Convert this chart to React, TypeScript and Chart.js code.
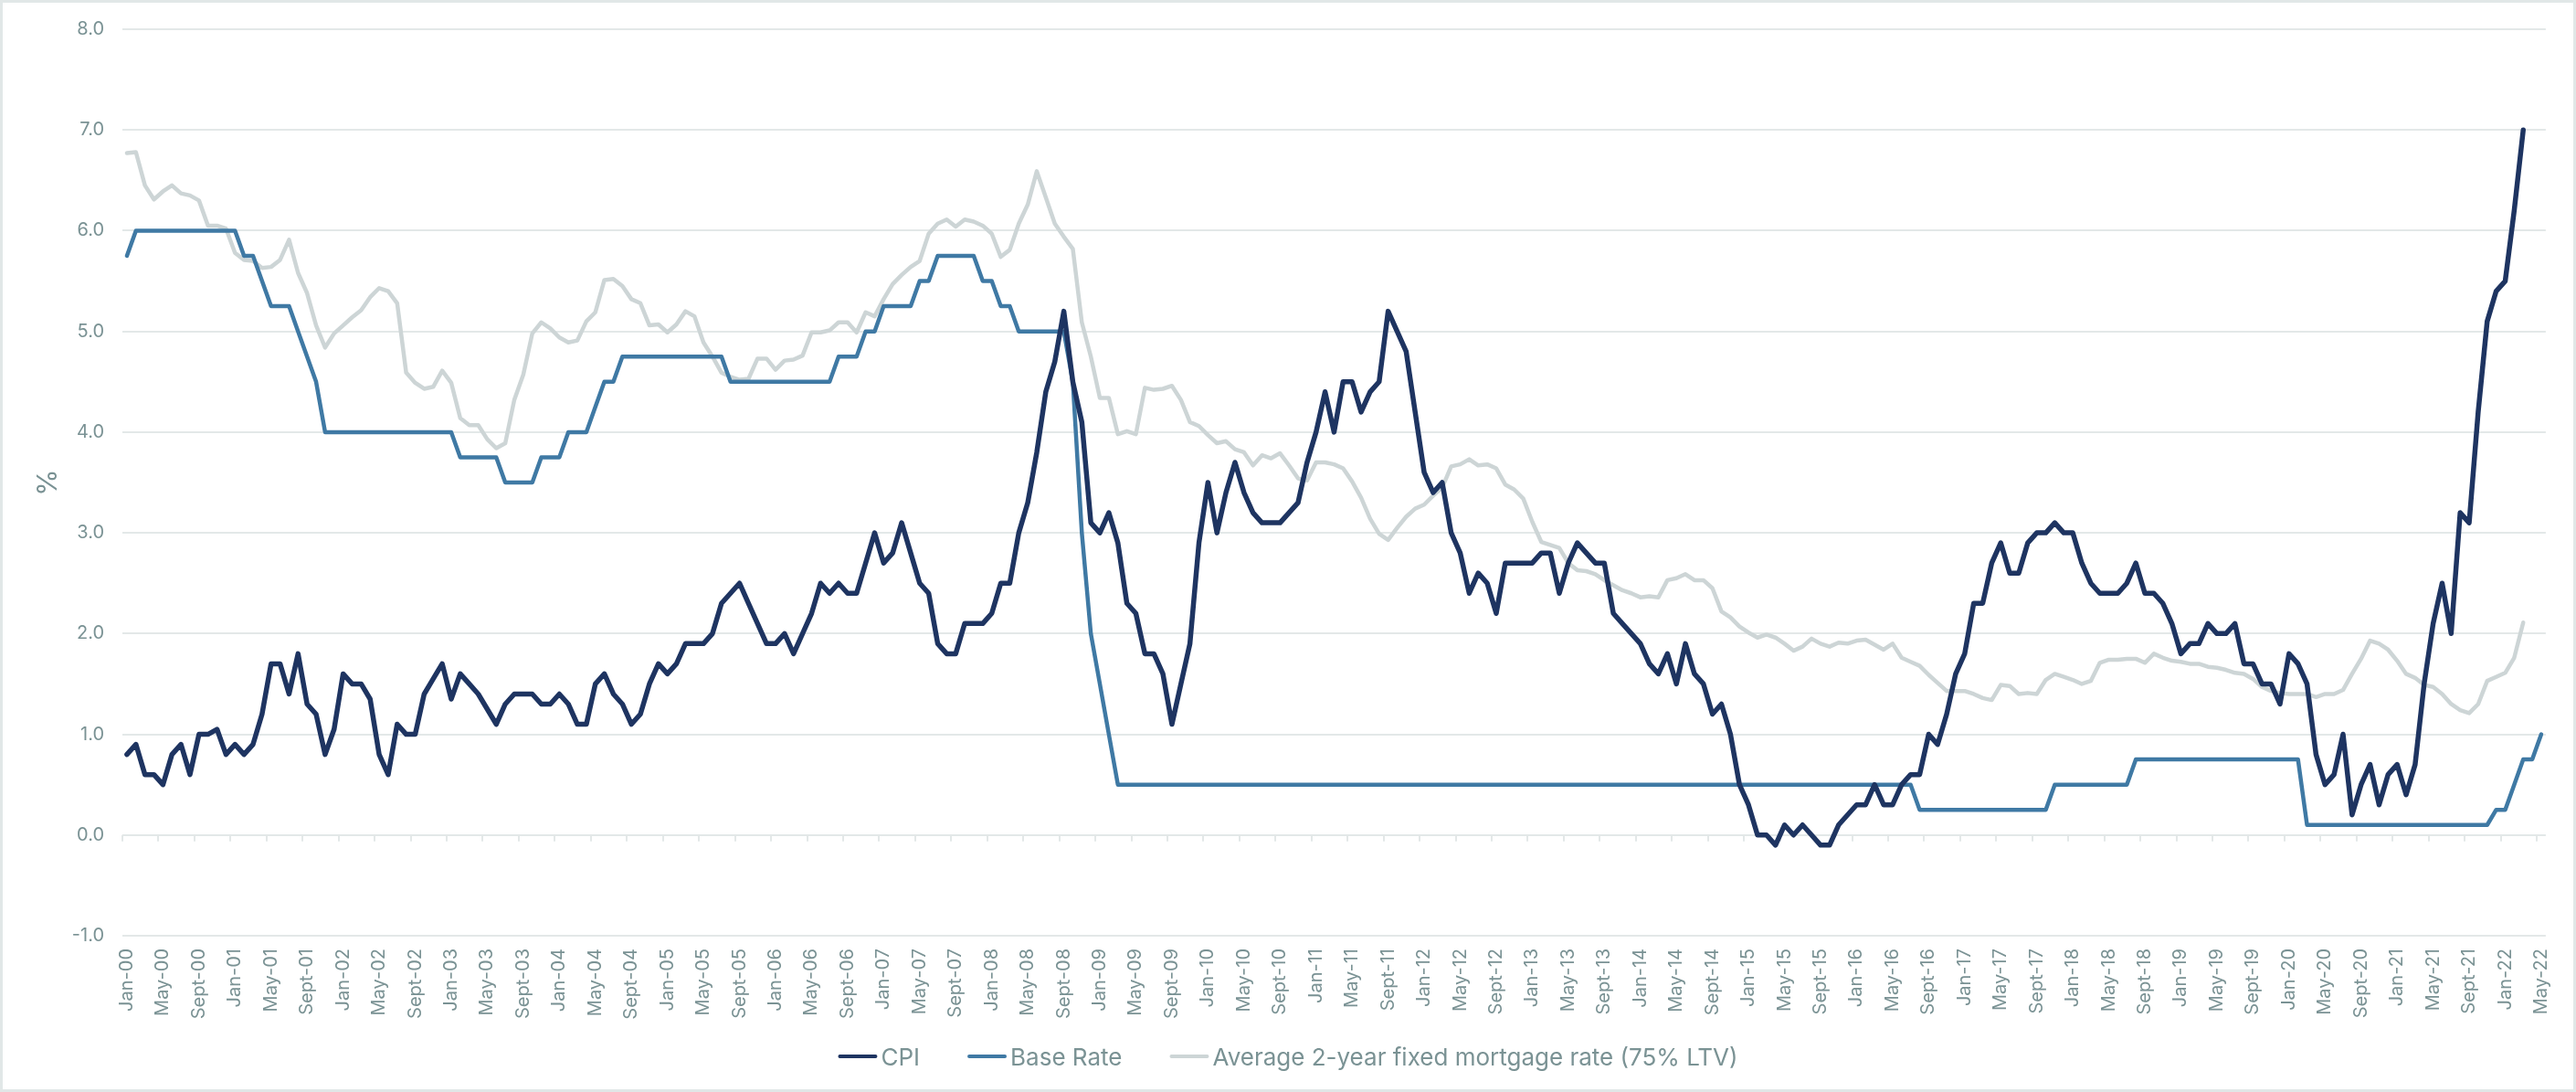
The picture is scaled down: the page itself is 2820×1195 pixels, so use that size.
import React, { useEffect, useRef } from 'react';
import { Chart, registerables } from 'chart.js';

Chart.register(...registerables);

// Month labels, Jan-00 .. May-22
const MONTH_NAMES = ['Jan', 'Feb', 'Mar', 'Apr', 'May', 'Jun', 'Jul', 'Aug', 'Sept', 'Oct', 'Nov', 'Dec'];
const FIRST_YEAR = 2000;
const LAST_YEAR = 2022;
const MONTHS_IN_LAST_YEAR = 5;

const labels: string[] = [];
for (let yr = FIRST_YEAR; yr <= LAST_YEAR; yr++) {
  const count = yr === LAST_YEAR ? MONTHS_IN_LAST_YEAR : 12;
  for (let m = 0; m < count; m++) {
    labels.push(`${MONTH_NAMES[m]}-${String(yr % 100).padStart(2, '0')}`);
  }
}

// CPI annual rate, %, Jan-00 .. Mar-22
const cpi: (number | null)[] = [
  0.8, 0.9, 0.6, 0.6, 0.5, 0.8, 0.9, 0.6, 1.0, 1.0, 1.05, 0.8,
  0.9, 0.8, 0.9, 1.2, 1.7, 1.7, 1.4, 1.8, 1.3, 1.2, 0.8, 1.05,
  1.6, 1.5, 1.5, 1.35, 0.8, 0.6, 1.1, 1.0, 1.0, 1.4, 1.55, 1.7,
  1.35, 1.6, 1.5, 1.4, 1.25, 1.1, 1.3, 1.4, 1.4, 1.4, 1.3, 1.3,
  1.4, 1.3, 1.1, 1.1, 1.5, 1.6, 1.4, 1.3, 1.1, 1.2, 1.5, 1.7,
  1.6, 1.7, 1.9, 1.9, 1.9, 2.0, 2.3, 2.4, 2.5, 2.3, 2.1, 1.9,
  1.9, 2.0, 1.8, 2.0, 2.2, 2.5, 2.4, 2.5, 2.4, 2.4, 2.7, 3.0,
  2.7, 2.8, 3.1, 2.8, 2.5, 2.4, 1.9, 1.8, 1.8, 2.1, 2.1, 2.1,
  2.2, 2.5, 2.5, 3.0, 3.3, 3.8, 4.4, 4.7, 5.2, 4.5, 4.1, 3.1,
  3.0, 3.2, 2.9, 2.3, 2.2, 1.8, 1.8, 1.6, 1.1, 1.5, 1.9, 2.9,
  3.5, 3.0, 3.4, 3.7, 3.4, 3.2, 3.1, 3.1, 3.1, 3.2, 3.3, 3.7,
  4.0, 4.4, 4.0, 4.5, 4.5, 4.2, 4.4, 4.5, 5.2, 5.0, 4.8, 4.2,
  3.6, 3.4, 3.5, 3.0, 2.8, 2.4, 2.6, 2.5, 2.2, 2.7, 2.7, 2.7,
  2.7, 2.8, 2.8, 2.4, 2.7, 2.9, 2.8, 2.7, 2.7, 2.2, 2.1, 2.0,
  1.9, 1.7, 1.6, 1.8, 1.5, 1.9, 1.6, 1.5, 1.2, 1.3, 1.0, 0.5,
  0.3, 0.0, 0.0, -0.1, 0.1, 0.0, 0.1, 0.0, -0.1, -0.1, 0.1, 0.2,
  0.3, 0.3, 0.5, 0.3, 0.3, 0.5, 0.6, 0.6, 1.0, 0.9, 1.2, 1.6,
  1.8, 2.3, 2.3, 2.7, 2.9, 2.6, 2.6, 2.9, 3.0, 3.0, 3.1, 3.0,
  3.0, 2.7, 2.5, 2.4, 2.4, 2.4, 2.5, 2.7, 2.4, 2.4, 2.3, 2.1,
  1.8, 1.9, 1.9, 2.1, 2.0, 2.0, 2.1, 1.7, 1.7, 1.5, 1.5, 1.3,
  1.8, 1.7, 1.5, 0.8, 0.5, 0.6, 1.0, 0.2, 0.5, 0.7, 0.3, 0.6,
  0.7, 0.4, 0.7, 1.5, 2.1, 2.5, 2.0, 3.2, 3.1, 4.2, 5.1, 5.4,
  5.5, 6.2, 7.0, null, null,
];

// Bank of England Base Rate, % (month end), Jan-00 .. May-22
const baseRate: number[] = [
  5.75, 6, 6, 6, 6, 6, 6, 6, 6, 6, 6, 6,
  6, 5.75, 5.75, 5.5, 5.25, 5.25, 5.25, 5, 4.75, 4.5, 4, 4,
  4, 4, 4, 4, 4, 4, 4, 4, 4, 4, 4, 4,
  4, 3.75, 3.75, 3.75, 3.75, 3.75, 3.5, 3.5, 3.5, 3.5, 3.75, 3.75,
  3.75, 4, 4, 4, 4.25, 4.5, 4.5, 4.75, 4.75, 4.75, 4.75, 4.75,
  4.75, 4.75, 4.75, 4.75, 4.75, 4.75, 4.75, 4.5, 4.5, 4.5, 4.5, 4.5,
  4.5, 4.5, 4.5, 4.5, 4.5, 4.5, 4.5, 4.75, 4.75, 4.75, 5, 5,
  5.25, 5.25, 5.25, 5.25, 5.5, 5.5, 5.75, 5.75, 5.75, 5.75, 5.75, 5.5,
  5.5, 5.25, 5.25, 5, 5, 5, 5, 5, 5, 4.5, 3, 2,
  1.5, 1, 0.5, 0.5, 0.5, 0.5, 0.5, 0.5, 0.5, 0.5, 0.5, 0.5,
  0.5, 0.5, 0.5, 0.5, 0.5, 0.5, 0.5, 0.5, 0.5, 0.5, 0.5, 0.5,
  0.5, 0.5, 0.5, 0.5, 0.5, 0.5, 0.5, 0.5, 0.5, 0.5, 0.5, 0.5,
  0.5, 0.5, 0.5, 0.5, 0.5, 0.5, 0.5, 0.5, 0.5, 0.5, 0.5, 0.5,
  0.5, 0.5, 0.5, 0.5, 0.5, 0.5, 0.5, 0.5, 0.5, 0.5, 0.5, 0.5,
  0.5, 0.5, 0.5, 0.5, 0.5, 0.5, 0.5, 0.5, 0.5, 0.5, 0.5, 0.5,
  0.5, 0.5, 0.5, 0.5, 0.5, 0.5, 0.5, 0.5, 0.5, 0.5, 0.5, 0.5,
  0.5, 0.5, 0.5, 0.5, 0.5, 0.5, 0.5, 0.25, 0.25, 0.25, 0.25, 0.25,
  0.25, 0.25, 0.25, 0.25, 0.25, 0.25, 0.25, 0.25, 0.25, 0.25, 0.5, 0.5,
  0.5, 0.5, 0.5, 0.5, 0.5, 0.5, 0.5, 0.75, 0.75, 0.75, 0.75, 0.75,
  0.75, 0.75, 0.75, 0.75, 0.75, 0.75, 0.75, 0.75, 0.75, 0.75, 0.75, 0.75,
  0.75, 0.75, 0.1, 0.1, 0.1, 0.1, 0.1, 0.1, 0.1, 0.1, 0.1, 0.1,
  0.1, 0.1, 0.1, 0.1, 0.1, 0.1, 0.1, 0.1, 0.1, 0.1, 0.1, 0.25,
  0.25, 0.5, 0.75, 0.75, 1,
];

// Average 2-year fixed mortgage rate (75% LTV), %, Jan-00 .. Mar-22
const mortgage2yr: (number | null)[] = [
  6.77, 6.78, 6.45, 6.31, 6.39, 6.45, 6.37, 6.35, 6.30, 6.05, 6.05, 6.02,
  5.78, 5.71, 5.70, 5.63, 5.64, 5.71, 5.91, 5.58, 5.38, 5.06, 4.84, 4.98,
  5.06, 5.14, 5.21, 5.34, 5.43, 5.40, 5.28, 4.59, 4.49, 4.43, 4.45, 4.61,
  4.49, 4.14, 4.07, 4.07, 3.93, 3.84, 3.89, 4.32, 4.57, 4.98, 5.09, 5.03,
  4.94, 4.89, 4.91, 5.10, 5.19, 5.51, 5.52, 5.45, 5.32, 5.28, 5.06, 5.07,
  4.99, 5.07, 5.20, 5.15, 4.89, 4.75, 4.59, 4.55, 4.52, 4.53, 4.73, 4.73,
  4.62, 4.71, 4.72, 4.76, 4.99, 4.99, 5.01, 5.09, 5.09, 4.99, 5.19, 5.15,
  5.32, 5.47, 5.56, 5.64, 5.70, 5.97, 6.07, 6.11, 6.04, 6.11, 6.09, 6.05,
  5.97, 5.74, 5.81, 6.07, 6.26, 6.59, 6.33, 6.07, 5.94, 5.82, 5.09, 4.75,
  4.34, 4.34, 3.98, 4.01, 3.98, 4.44, 4.42, 4.43, 4.46, 4.32, 4.10, 4.06,
  3.97, 3.89, 3.91, 3.83, 3.80, 3.67, 3.77, 3.74, 3.79, 3.67, 3.54, 3.52,
  3.70, 3.70, 3.68, 3.64, 3.51, 3.35, 3.14, 2.99, 2.93, 3.05, 3.16, 3.24,
  3.28, 3.37, 3.45, 3.66, 3.68, 3.73, 3.67, 3.68, 3.64, 3.48, 3.43, 3.34,
  3.11, 2.91, 2.88, 2.85, 2.70, 2.63, 2.62, 2.59, 2.53, 2.48, 2.43, 2.40,
  2.36, 2.37, 2.36, 2.53, 2.55, 2.59, 2.53, 2.53, 2.45, 2.22, 2.16, 2.07,
  2.01, 1.96, 1.99, 1.96, 1.90, 1.83, 1.87, 1.95, 1.90, 1.87, 1.91, 1.90,
  1.93, 1.94, 1.89, 1.84, 1.90, 1.76, 1.72, 1.68, 1.59, 1.51, 1.43, 1.43,
  1.43, 1.40, 1.36, 1.34, 1.49, 1.48, 1.40, 1.41, 1.40, 1.54, 1.60, 1.57,
  1.54, 1.50, 1.53, 1.71, 1.74, 1.74, 1.75, 1.75, 1.71, 1.80, 1.76, 1.73,
  1.72, 1.70, 1.70, 1.67, 1.66, 1.64, 1.61, 1.60, 1.55, 1.47, 1.43, 1.41,
  1.40, 1.40, 1.40, 1.37, 1.40, 1.40, 1.44, 1.60, 1.75, 1.93, 1.90, 1.84,
  1.73, 1.60, 1.56, 1.49, 1.47, 1.40, 1.30, 1.24, 1.21, 1.30, 1.53, 1.57,
  1.61, 1.76, 2.11, null, null,
];

const Y_TICKS_MIN = -1;
const Y_TICKS_MAX = 8;
const LABEL_EVERY = 4;

const TEXT_COLOR = '#7a9294';
const GRID_COLOR = '#e3e8e8';
const FRAME_COLOR = '#e1e7e7';
const FONT_FAMILY = 'Inter, "Noto Sans", sans-serif';

const WIDTH = 2820;
const HEIGHT = 1195;

// Small marks on the zero line between category groups, the centred legend and the outer frame
const decorations = {
  id: 'decorations',
  beforeDatasetsDraw(chart: any) {
    const { ctx, scales } = chart;
    const x = scales.x;
    const y = scales.y;
    const y0 = y.getPixelForValue(0);
    const bin = (x.right - x.left) / labels.length;
    ctx.save();
    ctx.strokeStyle = GRID_COLOR;
    ctx.lineWidth = 2;
    for (let i = 0; i < labels.length; i += LABEL_EVERY) {
      const px = Math.round(x.getPixelForValue(i) - bin / 2);
      ctx.beginPath();
      ctx.moveTo(px, y0);
      ctx.lineTo(px, y0 + 7);
      ctx.stroke();
    }
    ctx.restore();
  },
  afterDraw(chart: any) {
    const { ctx } = chart;
    const datasets = chart.data.datasets;
    const lineW = 43;
    const gap = 4;
    const itemGap = 52;
    const cy = HEIGHT - 39;
    ctx.save();
    ctx.font = `26px ${FONT_FAMILY}`;
    const widths = datasets.map((d: any) => lineW + gap + ctx.measureText(d.label).width);
    const total = widths.reduce((a: number, b: number) => a + b, 0) + itemGap * (datasets.length - 1);
    let cx = chart.width / 2 - total / 2;
    datasets.forEach((d: any, i: number) => {
      ctx.strokeStyle = d.borderColor;
      ctx.lineWidth = 4;
      ctx.lineCap = 'round';
      ctx.beginPath();
      ctx.moveTo(cx + 2, cy);
      ctx.lineTo(cx + lineW - 2, cy);
      ctx.stroke();
      ctx.fillStyle = TEXT_COLOR;
      ctx.textBaseline = 'alphabetic';
      ctx.textAlign = 'left';
      ctx.fillText(d.label, cx + lineW + gap, cy + 10);
      cx += widths[i] + itemGap;
    });
    ctx.strokeStyle = FRAME_COLOR;
    ctx.lineWidth = 3;
    ctx.strokeRect(1.5, 1.5, chart.width - 3, chart.height - 3);
    ctx.restore();
  },
};

export default function App() {
  const canvasRef = useRef<HTMLCanvasElement | null>(null);

  useEffect(() => {
    const canvas = canvasRef.current;
    if (!canvas) return;
    Chart.defaults.font.family = FONT_FAMILY;
    const chart = new Chart(canvas, {
      type: 'line',
      data: {
        labels,
        datasets: [
          {
            label: 'CPI',
            data: cpi,
            borderColor: '#1e3461',
            backgroundColor: '#1e3461',
            borderWidth: 5.5,
            pointRadius: 0,
            tension: 0,
            borderJoinStyle: 'round',
            borderCapStyle: 'round',
          },
          {
            label: 'Base Rate',
            data: baseRate,
            borderColor: '#3f79a4',
            backgroundColor: '#3f79a4',
            borderWidth: 4.5,
            pointRadius: 0,
            tension: 0,
            borderJoinStyle: 'round',
            borderCapStyle: 'round',
          },
          {
            label: 'Average 2-year fixed mortgage rate (75% LTV)',
            data: mortgage2yr,
            borderColor: '#cdd5d6',
            backgroundColor: '#cdd5d6',
            borderWidth: 4.5,
            pointRadius: 0,
            tension: 0,
            borderJoinStyle: 'round',
            borderCapStyle: 'round',
          },
        ],
      },
      options: {
        responsive: false,
        animation: false,
        layout: { padding: { top: 25, right: 24, left: 0, bottom: 0 } },
        plugins: {
          legend: { display: false },
          tooltip: { enabled: false },
        },
        scales: {
          x: {
            type: 'category',
            offset: true,
            grid: { display: false, drawTicks: false },
            border: { display: false },
            ticks: {
              autoSkip: false,
              minRotation: 90,
              maxRotation: 90,
              padding: 14,
              color: TEXT_COLOR,
              font: { size: 20 },
              callback: (_v: any, idx: number) => (idx % LABEL_EVERY === 0 ? labels[idx] : null),
            },
            afterFit: (scale: any) => {
              scale.height = 171;
            },
          },
          y: {
            min: Y_TICKS_MIN,
            max: Y_TICKS_MAX,
            grid: { color: GRID_COLOR, lineWidth: 2, drawTicks: false },
            border: { display: false },
            ticks: {
              stepSize: 1,
              padding: 20,
              color: TEXT_COLOR,
              font: { size: 20 },
              callback: (v: any) => Number(v).toFixed(1),
            },
            title: {
              display: true,
              text: '%',
              color: TEXT_COLOR,
              font: { size: 30 },
              padding: { top: 35, bottom: 0 },
            },
            afterFit: (scale: any) => {
              scale.width = 134;
            },
          },
        },
      },
      plugins: [decorations],
    });
    return () => chart.destroy();
  }, []);

  return (
    <div style={{ position: 'absolute', left: 0, top: 0, width: WIDTH, height: HEIGHT, background: '#ffffff' }}>
      <canvas ref={canvasRef} width={WIDTH} height={HEIGHT} style={{ width: WIDTH, height: HEIGHT, display: 'block' }} />
    </div>
  );
}
